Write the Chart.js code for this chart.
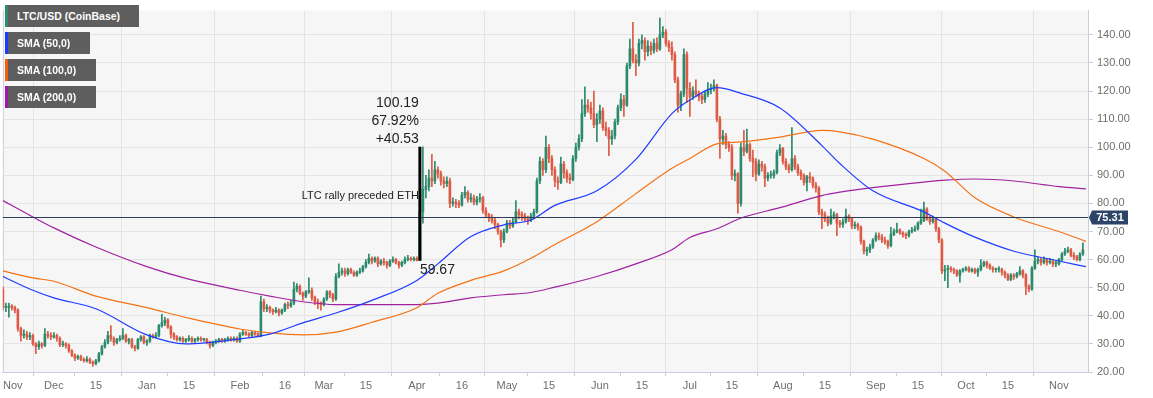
<!DOCTYPE html>
<html>
<head>
<meta charset="utf-8">
<title>LTC/USD</title>
<script src="https://cdn.jsdelivr.net/npm/chart.js@4.4.1/dist/chart.umd.min.js"></script>
<style>
  body { margin: 0; background: #fff; }
  #wrap { position: relative; width: 1153px; height: 398px; }
  .tag {
    position: absolute; left: 5px; height: 22px; box-sizing: border-box;
    background: #5e5e5e; color: #fff; border-left: 3px solid;
    font: bold 10.5px "Liberation Sans", Arial, sans-serif;
    padding-left: 9px; line-height: 22px; white-space: nowrap;
  }
</style>
</head>
<body>
<div id="wrap">
  <canvas id="chart" width="1153" height="398"></canvas>
  <div class="tag" style="top:5px;width:134px;border-color:#2d8b70">LTC/USD (CoinBase)</div>
  <div class="tag" style="top:32px;width:85px;border-color:#1a3cff">SMA (50,0)</div>
  <div class="tag" style="top:59px;width:91px;border-color:#f06010">SMA (100,0)</div>
  <div class="tag" style="top:86px;width:91px;border-color:#9c1aa0">SMA (200,0)</div>
</div>
<script>
// days counted from 1 Nov 2018, one candle per day
const firstDay = 13;
const firstOpen = 49.5;

const closes = [43, 43, 43.5, 43, 42, 35.5, 33,
  33.5, 32.5, 33, 30, 29, 30, 29.5, 33.5, 33, 32.5,
  33, 32, 29.7, 30, 29.5, 27.5, 26, 25, 25.5, 24.5,
  24, 24.5, 23.5, 23, 24, 26.5, 29, 30.5, 33, 32,
  30.5, 31.5, 32, 33, 31, 31.5, 29, 28.5, 31.5, 32.5,
  30.5, 31, 33, 32.5, 33, 36.5, 37.5, 38.5, 36, 33.5,
  32.5, 31.5, 32, 31, 31.5, 32, 31, 31.5, 32, 31.5,
  31.5, 30.5, 29.5, 30.5, 31, 31.5, 31, 31.5, 32, 31.5,
  32, 31, 33.5, 34, 33.5, 33, 34, 33.5, 33, 45,
  42.5, 43, 42, 41.5, 42, 41, 42, 44, 43.5, 44.5,
  49.5, 50.5, 48, 47, 48.5, 49, 46.5, 45, 44.5, 44,
  46, 48.5, 47.5, 46, 54, 55.5, 56, 55, 56.5, 55.5,
  54.5, 55.5, 56, 57.5, 59, 60.5, 59.5, 60.5, 58.5, 59.5,
  59, 58, 59.5, 60, 59, 58, 59, 60, 60.5, 60, 60.5, 59.67,
  77, 85, 86, 89, 88, 92, 90.5, 88,
  87, 88, 80, 80.5, 80, 79.5, 83, 84, 81.5, 82,
  80.5, 81.5, 82, 77.5, 76, 75, 74, 72.5, 70, 67,
  70, 73, 72, 73.5, 77, 76, 75.5, 74.5, 74, 75.5,
  77, 88, 95, 92, 100, 96, 92, 88, 87.5, 94,
  91, 89, 88.5, 96, 100, 103, 112, 115, 114, 112,
  108, 110, 113, 107, 106, 103, 104, 109, 114, 117,
  115, 129, 135, 131, 130, 137, 138, 134, 136, 134.5,
  137, 135, 140, 141, 137, 135.5, 133, 124, 115, 119,
  133, 121, 118, 120, 119, 118, 117, 119, 120.5, 121,
  122, 110, 103, 104, 101, 100, 90, 90.5, 80, 100,
  98.5, 101, 96, 95, 90.5, 94, 93, 89, 90, 90,
  91, 98, 99.5, 95, 93, 92, 96, 93, 91, 90,
  87.5, 89.5, 89, 86.5, 85.5, 77, 76, 74.5, 73, 75.5,
  76, 73, 72.5, 73.5, 75.5, 74.5, 72, 72.5, 71.5, 66.5,
  63, 63.5, 64.5, 67, 68.5, 68, 67, 66.5, 65, 69,
  70, 70.5, 69.5, 69, 68.5, 70, 70.5, 71, 73, 74,
  78, 74.5, 73.5, 74.5, 71, 67, 56, 56.5, 57, 56.5,
  56, 54.5, 56, 56.5, 57, 56, 56.5, 55.5, 56.5, 58,
  59, 58, 57, 56.5, 56.5, 56.5, 55.5, 54.5, 53, 54.5,
  54, 55, 56, 54.5, 50.5, 49.5, 57, 59.5, 60, 59,
  60, 59, 59.5, 58.5, 58.5, 60, 62, 63, 63.5, 61.5,
  61, 60, 62, 63.5];

const highs = [50.5, 44.5, 44.5, 44, 43.5, 42.5, 36,
  35, 34.5, 34, 33.5, 30.5, 31, 30.5, 35.5, 34.5, 34,
  34, 33.5, 32.5, 31, 30.5, 30, 28, 26.5, 26, 26,
  25, 25.5, 25, 24, 24.5, 27, 29.5, 31.5, 34.5, 36.5,
  32.5, 32, 33, 35.5, 33.5, 32, 32, 29.5, 32, 33,
  33, 31.5, 33.5, 33.5, 34, 37, 40.5, 39.5, 39, 36.5,
  34, 33, 32.5, 32.5, 32, 33, 32.5, 32, 32.5, 32.5,
  32, 32, 31, 31, 31.5, 32, 32, 32, 32.5, 32.5,
  32.5, 32.5, 34, 35, 34.5, 34, 34.5, 34.5, 34, 47,
  46, 44, 43.5, 42.5, 43, 42.5, 42.5, 44.5, 45, 45.5,
  52, 51.5, 51, 48.5, 49, 53.5, 50, 47, 46, 45,
  46.5, 49, 49, 48, 55, 58.5, 57, 57, 57, 57,
  56, 56, 57, 58, 60, 62, 61, 61, 61, 60,
  60.5, 59.5, 60, 61, 60.5, 59.5, 59.5, 61, 61.5, 61, 61, 61,
  88, 100.19, 90, 92, 97.5, 95, 93, 91.5,
  89.5, 89.5, 89, 82, 81.5, 81, 84, 86, 84.5, 83.5,
  83, 82.5, 83.5, 82.5, 78.5, 76.5, 76, 75, 73, 70.5,
  71, 74, 74, 75, 81, 78, 77, 76.5, 75.5, 76.5,
  78, 89, 96.5, 96, 104, 101, 97, 93, 89.5, 96.5,
  95, 92, 90.5, 97, 101.5, 104.5, 117, 121.5, 117, 116,
  120, 112, 115, 114, 109, 107, 106, 110, 115, 119,
  118.5, 130, 138.5, 144.5, 133, 138.5, 140, 139, 138, 137.5,
  138.5, 139, 146, 143, 142, 138, 137.5, 134, 125, 120,
  135, 134, 123, 121.5, 124, 120, 119, 120, 123, 122.5,
  124, 122.5, 111, 106, 105, 102, 101, 92, 91, 101.5,
  106, 106.5, 101.5, 99, 96, 95.5, 95, 94, 91, 91.5,
  92, 99, 101, 100, 96, 94, 107, 97, 94, 92,
  90.5, 90, 91, 89.5, 87.5, 86, 78, 77, 75.5, 78,
  77, 76.5, 74, 74.5, 78, 76, 75, 73.5, 73, 72,
  67, 64.5, 65.5, 67.5, 69.5, 69.5, 69, 68, 67, 71.5,
  71, 73, 71, 70, 69.5, 70.5, 71.5, 72, 73.5, 78,
  80.5, 78.5, 75.5, 75.5, 75, 71.5, 67.5, 58, 58, 57.5,
  57, 56.5, 56.5, 57, 57.5, 57.5, 57, 57, 57, 60,
  59.5, 59.5, 58.5, 57.5, 57, 57.5, 57, 56, 55, 55,
  55, 55.5, 57.5, 56.5, 55, 51, 57.5, 63.5, 61, 60.5,
  61, 60.5, 60.5, 60, 59.5, 60.5, 62.5, 64, 64.5, 64,
  62.5, 61.5, 62.5, 66];

const lows = [42, 41.5, 39.5, 42, 41, 34.5, 31,
  32, 31.5, 31.5, 29.5, 26.5, 28, 28.5, 29, 32, 31.5,
  32, 31, 29, 29, 28.5, 27, 25.5, 24, 24.5, 24,
  23.5, 23.5, 23, 22, 22.5, 23.5, 26, 28.5, 30, 31,
  29.5, 30, 31, 31.5, 30.5, 30, 28.5, 27.5, 28, 31,
  30, 29.5, 30.5, 32, 32, 32.5, 36, 36.5, 35.5, 32,
  31.5, 31, 31, 30.5, 30.5, 31, 30.5, 30.5, 31, 31,
  31, 30, 28.5, 29, 30, 30.5, 30.5, 30.5, 31, 31,
  31, 30.5, 30.5, 33, 33, 32.5, 32.5, 33, 32.5, 32.5,
  41.5, 41.5, 41, 40.5, 41, 40, 40.5, 41.5, 42.5, 43,
  44, 48.5, 47.5, 45.5, 46.5, 48, 45.5, 44, 42.5, 42,
  43.5, 45.5, 46.5, 45, 45.5, 53.5, 54.5, 54, 54.5, 55,
  54, 54, 55, 55.5, 57, 58.5, 58.5, 59, 57.5, 58,
  58, 57, 57.5, 59, 58.5, 57, 57.5, 58.5, 59.5, 59.5, 59.5, 59.5,
  59.67, 73, 82, 84.5, 86, 87, 89, 86.5,
  85.5, 86, 78.5, 79, 78.5, 78.5, 79, 82, 80.5, 80.5,
  79.5, 79.5, 80.5, 76.5, 75, 73.5, 73, 71, 69, 64.5,
  66, 69.5, 71, 71.5, 73, 74.5, 74, 73.5, 72.5, 73.5,
  74.5, 76.5, 87, 90, 91, 94.5, 90, 86, 85, 87,
  89, 87.5, 87, 88, 95, 99, 102, 111, 112.5, 110,
  107, 102, 108.5, 106, 104, 97, 101, 103, 108, 113,
  111, 114.5, 128, 130, 125.5, 129, 135, 131, 132.5, 133,
  133.5, 134, 134.5, 139, 136, 134, 131, 123, 112.5, 113,
  118, 116, 111, 117, 118, 116.5, 115.5, 116, 118, 119,
  120, 109, 96, 101, 99.5, 98.5, 88.5, 88, 76.5, 79,
  97, 98, 95, 89.5, 88, 90, 91.5, 86, 88, 89,
  89, 90.5, 97, 94, 92, 91, 91.5, 92, 90, 88.5,
  86.5, 84.5, 87.5, 85.5, 84, 76, 71, 73.5, 72, 72.5,
  74.5, 68.5, 71.5, 71.5, 73, 73.5, 71, 71, 70.5, 65.5,
  62, 61.5, 62.5, 64, 66.5, 67, 66, 65.5, 64, 64.5,
  68.5, 69.5, 69, 68, 67.5, 68, 69.5, 70, 70.5, 72.5,
  73.5, 74, 72.5, 73, 70, 66, 55, 52.5, 50, 55.5,
  55, 54, 52, 55.5, 56, 55.5, 55.5, 55, 54, 56,
  57.5, 57, 56.5, 55.5, 55.5, 55.5, 54.5, 53.5, 52.5, 52.5,
  53, 53.5, 54.5, 53.5, 47.5, 48.5, 49, 56.5, 58.5, 58,
  58.5, 58, 58.5, 57.5, 57.5, 58, 59.5, 61.5, 62.5, 61,
  60, 59.5, 59.5, 61.5];

// moving averages at these days
const smaDays = [13, 23, 30, 44, 61, 74, 92, 102, 113, 124, 136, 151, 158, 169, 180, 189, 197,
  211, 224, 236, 242, 251, 259, 272, 286, 292, 303, 320, 327, 337, 350, 365, 374];
const sma50 = [54, 49.1, 46.4, 42.5, 33.2, 30, 31.8, 33.5, 37.5, 41, 45.5, 52.6, 58.5, 68.2, 72.4, 74.1, 79.3,
  84.5, 95.7, 112, 116.8, 121.2, 119.2, 114, 100.6, 94.2, 84.5, 77, 73, 68, 63, 59.5, 57.5];
const sma100 = [56, 53.5, 52.3, 47, 42.9, 39.4, 35.3, 33.9, 33.2, 34.2, 37.7, 42.9, 48, 52.6, 56, 60.5, 65.4,
  73.5, 83.5, 92.5, 96, 101.2, 101.9, 103.6, 106, 105.5, 102.9, 96, 91.5, 82, 75.2, 70, 66.5];
const sma200 = [81, 75.2, 71.3, 64.5, 57.5, 53.3, 49.1, 47, 45, 44, 44, 44, 44.5, 46.4, 47.5, 48.3, 50.2,
  54, 58.5, 63.5, 67.9, 71, 74.8, 78.5, 82.8, 84, 85.6, 87.6, 88.3, 88.7, 88, 86, 85.2];

const tickDays = [16.3, 30, 44, 61, 75, 92, 107, 120, 134, 151, 166, 181, 195, 212, 226, 242, 256,
  273, 287, 304, 318, 334, 348, 365];
const tickLabels = ['Nov', 'Dec', '15', 'Jan', '15', 'Feb', '16', 'Mar', '15', 'Apr', '16', 'May', '15',
  'Jun', '15', 'Jul', '15', 'Aug', '15', 'Sep', '15', 'Oct', '15', 'Nov'];

const levelPrice = 75.31;
const rallyDay = 152;
const rallyLow = 59.67;
const rallyHigh = 100.19;
const rallyText = ['100.19', '67.92%', '+40.53'];
const noteText = 'LTC rally preceded ETH';

const upColor = '#2b8a6c';
const downColor = '#dd5a44';
const axisColor = '#c9cfdf';
const gridColor = '#e4e4e4';
const fontFamily = '"Liberation Sans", Arial, sans-serif';

Chart.defaults.font.family = fontFamily;

// build candles, each day opens at the previous close
let candles = closes.map((c, i) => {
    let o = i == 0 ? firstOpen : closes[i - 1];
    return { x: firstDay + i, o: o, c: c, h: highs[i], l: lows[i] };
});
let candleColors = candles.map(k => k.c >= k.o ? upColor : downColor);

function smaPoints(vals) {
    return smaDays.map((d, i) => ({ x: d, y: vals[i] }));
}

function smaLine(vals, color) {
    return {
        type: 'line', data: smaPoints(vals), borderColor: color, borderWidth: 1.2,
        pointRadius: 0, cubicInterpolationMode: 'monotone', order: 0
    };
}

const background = {
    id: 'background',
    beforeDraw(chart) {
        let { ctx, chartArea: a } = chart;
        ctx.save();
        ctx.fillStyle = '#fff';
        ctx.fillRect(0, 0, chart.width, chart.height);
        ctx.fillStyle = '#f6f6f6';
        ctx.fillRect(a.left, a.top, a.right - a.left, a.bottom - a.top);
        // thin frame on the left edge
        ctx.fillStyle = axisColor;
        ctx.fillRect(a.left, a.top, 1, a.bottom - a.top);
        ctx.restore();
    }
};

const notes = {
    id: 'notes',
    afterDatasetsDraw(chart) {
        let { ctx, chartArea: a, scales: { x, y } } = chart;
        ctx.save();
        // horizontal level line
        let ly = Math.round(y.getPixelForValue(levelPrice)) + 0.5;
        ctx.strokeStyle = '#2c3d5b';
        ctx.lineWidth = 1;
        ctx.beginPath();
        ctx.moveTo(a.left, ly);
        ctx.lineTo(a.right, ly);
        ctx.stroke();

        // rally measure bar
        let rx = x.getPixelForValue(rallyDay);
        let top = y.getPixelForValue(rallyHigh);
        let bot = y.getPixelForValue(rallyLow);
        ctx.fillStyle = '#000';
        ctx.fillRect(rx - 1.5, top, 3, bot - top);

        ctx.fillStyle = '#222';
        ctx.textBaseline = 'middle';
        ctx.font = '14px ' + fontFamily;
        ctx.textAlign = 'right';
        rallyText.forEach((t, i) => {
            ctx.fillText(t, rx - 1, top - 8 - 18 * (rallyText.length - 1 - i));
        });
        ctx.textAlign = 'left';
        ctx.fillText(rallyLow.toFixed(2), rx, bot + 10);

        ctx.font = '11px ' + fontFamily;
        ctx.textAlign = 'right';
        ctx.fillText(noteText, rx - 1, y.getPixelForValue(82.6));
        ctx.restore();
    },
    afterDraw(chart) {
        let { ctx, chartArea: a, scales: { y } } = chart;
        let ly = Math.round(y.getPixelForValue(levelPrice)) + 0.5;
        ctx.save();
        ctx.fillStyle = '#2d4468';
        ctx.beginPath();
        ctx.moveTo(a.right + 1, ly);
        ctx.lineTo(a.right + 4, ly - 7);
        ctx.lineTo(a.right + 40, ly - 7);
        ctx.lineTo(a.right + 40, ly + 7);
        ctx.lineTo(a.right + 4, ly + 7);
        ctx.closePath();
        ctx.fill();
        ctx.fillStyle = '#fff';
        ctx.font = 'bold 11px ' + fontFamily;
        ctx.textAlign = 'center';
        ctx.textBaseline = 'middle';
        ctx.fillText(levelPrice.toFixed(2), a.right + 22, ly + 0.5);
        ctx.restore();
    }
};

let chart = new Chart(document.getElementById('chart'), {
    type: 'bar',
    data: {
        datasets: [
            smaLine(sma50, '#1f3cff'),
            smaLine(sma100, '#f47216'),
            smaLine(sma200, '#a0229f'),
            {
                // wicks
                data: candles.map(k => ({ x: k.x, y: [k.l, k.h] })),
                backgroundColor: candleColors, barThickness: 1, grouped: false, order: 2
            },
            {
                // bodies
                data: candles.map(k => ({ x: k.x, y: [k.o, k.c] })),
                backgroundColor: candleColors, barThickness: 2, minBarLength: 1, grouped: false, order: 1
            }
        ]
    },
    options: {
        responsive: false,
        animation: false,
        layout: { padding: 0 },
        plugins: { legend: { display: false }, tooltip: { enabled: false } },
        scales: {
            x: {
                type: 'linear', min: 13, max: 374.7, offset: false,
                afterBuildTicks: s => { s.ticks = tickDays.map(v => ({ value: v })); },
                afterFit: s => { s.height = 26; },
                ticks: {
                    autoSkip: false, maxRotation: 0, padding: 3, color: '#6e6e6e',
                    font: { size: 11 },
                    callback: (v, i) => tickLabels[i]
                },
                grid: {
                    color: c => (c.index > 0 && isNaN(tickLabels[c.index])) ? gridColor : 'transparent',
                    tickColor: c => c.index > 0 ? axisColor : 'transparent',
                    tickLength: 4
                },
                border: { color: axisColor }
            },
            y: {
                position: 'right', min: 20, max: 148.65,
                afterBuildTicks: s => { s.ticks = s.ticks.filter(t => t.value % 10 == 0); },
                afterFit: s => { s.width = 65; },
                ticks: {
                    stepSize: 10, padding: 4, color: '#6e6e6e', font: { size: 11 },
                    callback: v => v.toFixed(2)
                },
                grid: { color: gridColor, tickColor: axisColor, tickLength: 5 },
                border: { color: axisColor }
            }
        }
    },
    plugins: [background, notes]
});
</script>
</body>
</html>
